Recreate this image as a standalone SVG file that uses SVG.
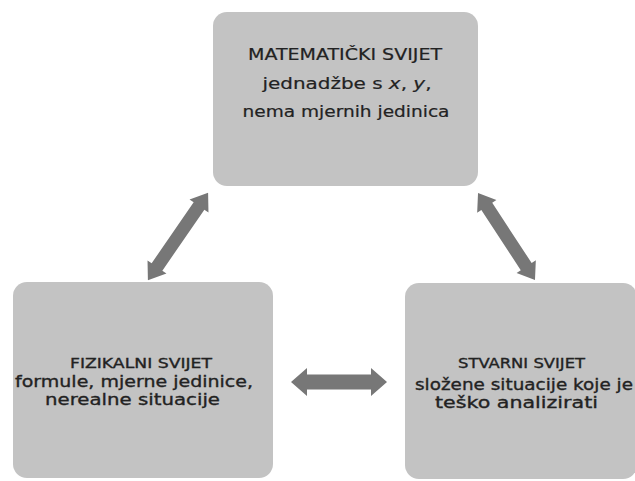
<svg xmlns="http://www.w3.org/2000/svg" width="635" height="481" viewBox="0 0 635 481">
<style>
.box{fill:#c3c3c3;}
.arr{fill:#777777;}
text{font-family:"DejaVu Sans","Open Sans",sans-serif;fill:#222222;text-anchor:middle;}
.t1{font-size:16px;stroke:#222222;stroke-width:0.2;}
.t2{font-size:14px;stroke:#222222;stroke-width:0.35;}
.t3{font-size:16.5px;stroke:#222222;stroke-width:0.35;}
</style>
<rect width="635" height="481" fill="#ffffff"/>
<g id="connectors">
<path class="arr" transform="translate(339,382)" d="M-48,0 L-32,-14 L-32,-7.5 L32,-7.5 L32,-14 L48,0 L32,14 L32,7.5 L-32,7.5 L-32,14 Z"/>
<path class="arr" transform="translate(178,236.5) rotate(-55.4)" d="M-53,0 L-37,-11.5 L-37,-6.5 L37,-6.5 L37,-11.5 L53,0 L37,11.5 L37,6.5 L-37,6.5 L-37,11.5 Z"/>
<path class="arr" transform="translate(506.5,236.5) rotate(56.8)" d="M-52,0 L-36,-11.5 L-36,-6.5 L36,-6.5 L36,-11.5 L52,0 L36,11.5 L36,6.5 L-36,6.5 L-36,11.5 Z"/>
</g>
<g id="matematicki">
<rect class="box" x="213" y="12" width="265" height="174" rx="14"/>
<text class="t1" x="345" y="60" textLength="194" lengthAdjust="spacingAndGlyphs">MATEMATIČKI SVIJET</text>
<text class="t1" x="347" y="89" textLength="169" lengthAdjust="spacingAndGlyphs">jednadžbe s <tspan font-style="italic">x</tspan>, <tspan font-style="italic">y</tspan>,</text>
<text class="t1" x="346" y="117" textLength="207" lengthAdjust="spacingAndGlyphs">nema mjernih jedinica</text>
</g>
<g id="fizikalni">
<rect class="box" x="13" y="282" width="260" height="196" rx="14"/>
<text class="t2" x="141" y="368" textLength="142" lengthAdjust="spacingAndGlyphs">FIZIKALNI SVIJET</text>
<text class="t3" x="134" y="387" textLength="238" lengthAdjust="spacingAndGlyphs">formule, mjerne jedinice,</text>
<text class="t3" x="132.5" y="405" textLength="175" lengthAdjust="spacingAndGlyphs">nerealne situacije</text>
</g>
<g id="stvarni">
<rect class="box" x="405" y="283" width="232" height="196" rx="14"/>
<text class="t2" x="521.5" y="368" textLength="127" lengthAdjust="spacingAndGlyphs">STVARNI SVIJET</text>
<text class="t3" x="524" y="390" textLength="218" lengthAdjust="spacingAndGlyphs">složene situacije koje je</text>
<text class="t3" x="516.5" y="408" textLength="163" lengthAdjust="spacingAndGlyphs">teško analizirati</text>
</g>
</svg>
